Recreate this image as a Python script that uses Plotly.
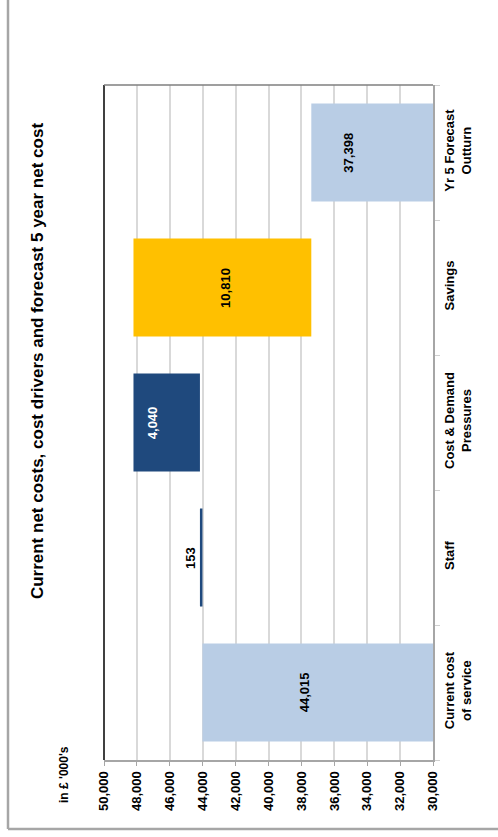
import plotly.graph_objects as go

# Waterfall data (£'000)
categories = [
    "Current cost<br>of service",
    "Staff",
    "Cost & Demand<br>Pressures",
    "Savings",
    "Yr 5 Forecast<br>Outturn",
]
measures = ["absolute", "relative", "relative", "relative", "absolute"]
values = [44015, 153, 4040, -10810, 37398]
value_ticks = list(range(30000, 50001, 2000))

AXIS_MIN, AXIS_MAX = 30000, 50000
FONT = "Arial, Liberation Sans, sans-serif"

fig = go.Figure()
fig.add_trace(go.Waterfall(
    orientation="h",
    y=categories,
    x=values,
    measure=measures,
    totals=dict(marker=dict(color="#B9CDE5")),
    increasing=dict(marker=dict(color="#1F497D")),
    decreasing=dict(marker=dict(color="#FFC000")),
    connector=dict(visible=False),
    textposition="none",
    hoverinfo="x+y",
))

# running totals to find each segment's extent
starts, ends = [], []
running = 0
for m, v in zip(measures, values):
    if m == "absolute":
        s, e = 0, v
        running = v
    else:
        s, e = running, running + v
        running = e
    starts.append(s)
    ends.append(e)

# label placement (pixel nudges along the value axis, white text on dark bar)
label_styles = [
    dict(shift=-13, color="black", mode="mid"),
    dict(shift=0, color="black", mode="outside"),
    dict(shift=-14, color="white", mode="mid"),
    dict(shift=3, color="black", mode="mid"),
    dict(shift=-24, color="black", mode="mid"),
]

annotations = []
for cat, v, s, e, st in zip(categories, values, starts, ends, label_styles):
    lo = max(min(s, e), AXIS_MIN)
    hi = min(max(s, e), AXIS_MAX)
    if st["mode"] == "mid":
        xpos, anchor = (lo + hi) / 2, "center"
    else:
        xpos, anchor = hi, "right"
    annotations.append(dict(
        x=xpos, y=cat, xref="x", yref="y",
        text=f"{abs(v):,}", textangle=-90, showarrow=False,
        xanchor=anchor, yanchor="middle", xshift=st["shift"],
        font=dict(family=FONT, size=13, color=st["color"], weight="bold"),
    ))

annotations.append(dict(
    x=-0.2035, y=0.591, xref="paper", yref="paper",
    text="Current net costs, cost drivers and forecast 5 year net cost",
    textangle=-90, showarrow=False, xanchor="center", yanchor="middle",
    font=dict(family=FONT, size=17, color="black", weight="bold"),
))
annotations.append(dict(
    x=-0.1216, y=-0.0207, xref="paper", yref="paper",
    text="in £ '000's", textangle=-90, showarrow=False,
    xanchor="center", yanchor="middle",
    font=dict(family=FONT, size=12, color="black", weight="bold"),
))

shapes = [
    # plot-area border: black edge at 50,000 and grey top edge
    dict(type="line", xref="paper", yref="paper", x0=0, x1=0, y0=0, y1=1,
         line=dict(color="black", width=1.5)),
    dict(type="line", xref="paper", yref="paper", x0=0, x1=1, y0=1, y1=1,
         line=dict(color="#7f7f7f", width=1.5)),
    # chart frame
    dict(type="line", xref="paper", yref="paper",
         x0=(8 - 104) / 329, x1=(8 - 104) / 329, y0=(760 - 829) / 675, y1=1.2,
         line=dict(color="#a6a6a6", width=2.5)),
    dict(type="line", xref="paper", yref="paper",
         x0=(8 - 104) / 329, x1=1.3, y0=(760 - 829) / 675, y1=(760 - 829) / 675,
         line=dict(color="#a6a6a6", width=2.5)),
]

fig.update_layout(
    width=498, height=837,
    margin=dict(l=104, r=65, t=85, b=77),
    paper_bgcolor="white", plot_bgcolor="white",
    showlegend=False,
    waterfallgap=0.274,
    font=dict(family=FONT, color="black"),
    annotations=annotations,
    shapes=shapes,
    xaxis=dict(
        range=[AXIS_MAX, AXIS_MIN],
        tickvals=value_ticks, tickformat=",",
        tickangle=-90,
        tickfont=dict(family=FONT, size=13, color="black", weight="bold"),
        showgrid=True, gridcolor="#d9d9d9", gridwidth=1.5,
        ticks="outside", ticklen=4, tickcolor="#a6a6a6",
        showline=True, linecolor="#a6a6a6", linewidth=2,
        zeroline=False, fixedrange=True,
    ),
    yaxis=dict(
        type="category", categoryorder="array", categoryarray=categories,
        side="right", tickangle=-90,
        tickfont=dict(family=FONT, size=13, color="black", weight="bold"),
        ticks="outside", tickson="boundaries", ticklen=5, tickcolor="#d0d0d0",
        ticklabelstandoff=4,
        showline=True, linecolor="#a6a6a6", linewidth=1.5,
        showgrid=False, zeroline=False, fixedrange=True,
    ),
)

fig.write_html("out.html")
